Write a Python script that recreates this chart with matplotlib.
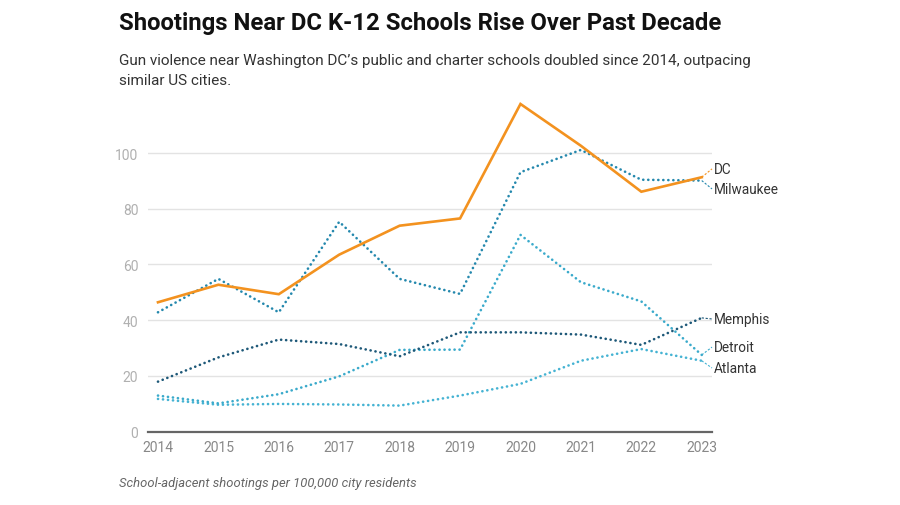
import matplotlib
matplotlib.use("Agg")
import matplotlib.pyplot as plt

years = [2014, 2015, 2016, 2017, 2018, 2019, 2020, 2021, 2022, 2023]
dc = [46.4, 52.7, 49.3, 63.5, 73.9, 76.5, 117.6, 102.6, 86.1, 91.3]
milwaukee = [42.8, 54.8, 42.8, 75.3, 54.8, 49.4, 93.1, 101.1, 90.4, 90.1]
memphis = [17.9, 26.6, 33.0, 31.4, 27.0, 35.6, 35.6, 34.8, 31.1, 40.8]
detroit = [12.9, 10.1, 13.4, 19.8, 29.3, 29.4, 70.6, 53.6, 46.7, 27.5]
atlanta = [11.7, 9.6, 9.9, 9.7, 9.3, 12.9, 17.1, 25.4, 29.6, 25.4]
y_ticks = [0, 20, 40, 60, 80, 100]

title = "Shootings Near DC K-12 Schools Rise Over Past Decade"
subtitle = ("Gun violence near Washington DC\u2019s public and charter schools doubled since 2014, outpacing\n"
            "similar US cities.")
caption = "School-adjacent shootings per 100,000 city residents"

plt.rcParams['font.family'] = ['Roboto', 'DejaVu Sans']

fig = plt.figure(figsize=(9, 5.06), dpi=100)
W, H = 900, 506
ax = fig.add_axes([148 / W, (H - 432.5) / H, (711.7 - 148) / W, (432.5 - 98.3) / H])

series = [
    ("Atlanta", atlanta, "#45b3d3", "dot", 22.8),
    ("Detroit", detroit, "#3aaacb", "dot", 30.3),
    ("Memphis", memphis, "#1d5878", "dot", 40.4),
    ("Milwaukee", milwaukee, "#2488ad", "dot", 87.1),
    ("DC", dc, "#f3921f", "solid", 94.3),
]

for name, vals, color, style, label_y in series:
    if style == "solid":
        ax.plot(years, vals, color=color, lw=1.9, solid_joinstyle='miter', zorder=5)
    else:
        ax.plot(years, vals, color=color, lw=1.9, linestyle=(0, (0.05, 1.85)),
                dash_capstyle='round', zorder=4)
    # connector to label
    ax.plot([years[-1], 2023.17], [vals[-1], label_y], color=color, lw=0.8,
            linestyle=(0, (2, 1.5)), clip_on=False, zorder=3)
    ax.text(2023.2, label_y, name, color="#333333", fontsize=9.8, va='center', ha='left')

ax.set_xlim(2013.835, 2023.165)
ax.set_ylim(0, 120)
ax.set_yticks(y_ticks)
ax.set_xticks(years)
ax.set_xticklabels([str(y) for y in years])
ax.grid(axis='y', color='#e3e3e3', lw=1)
ax.set_axisbelow(True)
for s in ['top', 'right', 'left']:
    ax.spines[s].set_visible(False)
ax.spines['bottom'].set_color('#666666')
ax.spines['bottom'].set_linewidth(1.6)
ax.tick_params(axis='y', length=0, pad=7, labelsize=10, labelcolor='#b0b0b0')
ax.tick_params(axis='x', length=0, pad=6, labelsize=10, labelcolor='#888888')

t = fig.text(119 / W, 1 - 24 / H, title, fontsize=18, fontweight='bold', color='#111111',
             va='center', ha='left')
fig.canvas.draw()
bb = t.get_window_extent()
t.set_fontsize(18 * 603 / bb.width)

fig.text(119 / W, 1 - 71 / H, subtitle, fontsize=10.95, color='#333333', va='center',
         ha='left', linespacing=1.5)
fig.text(119 / W, 1 - 484 / H, caption, fontsize=9.4, color='#666666', style='italic',
         va='center', ha='left')

fig.savefig("out.png", dpi=100)
